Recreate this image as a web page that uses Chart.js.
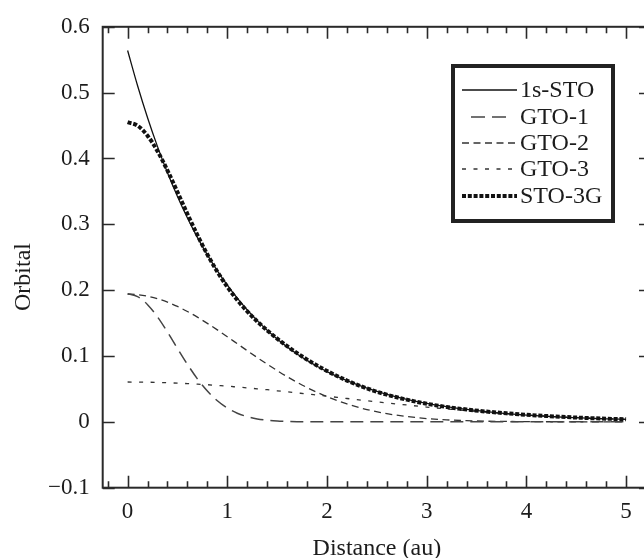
<!DOCTYPE html>
<html>

<head>
  <title>STO-3G orbital</title>
  <script src="https://cdn.jsdelivr.net/npm/chart.js"></script>
  <style>
    body { margin: 0; overflow: hidden; background: #fff; }
    #wrap { width: 656px; height: 558px; }
  </style>
</head>

<body>
  <div id="wrap"><canvas id="orbitalChart"></canvas></div>
  <script>
    // distance in au (finer step near the nucleus)
    var distance = [0, 0.1, 0.2, 0.3, 0.4, 0.5, 0.6, 0.7, 0.8, 0.9, 1.0, 1.1, 1.2, 1.3, 1.4, 1.5, 1.6, 1.7, 1.8, 1.9, 2.0,
      2.2, 2.4, 2.6, 2.8, 3.0, 3.2, 3.4, 3.6, 3.8, 4.0, 4.2, 4.4, 4.6, 4.8, 5.0];

    var sto1s = [0.564, 0.5105, 0.4619, 0.418, 0.3782, 0.3422, 0.3096, 0.2802, 0.2535, 0.2294, 0.2076, 0.1878, 0.1699, 0.1538, 0.1391, 0.1259, 0.1139, 0.1031, 0.0933, 0.0844, 0.0764,
      0.0625, 0.0512, 0.0419, 0.0343, 0.0281, 0.023, 0.0188, 0.0154, 0.0126, 0.0103, 0.0085, 0.0069, 0.0057, 0.0046, 0.0038];
    var gto1 = [0.1946, 0.1903, 0.178, 0.1593, 0.1363, 0.1115, 0.0873, 0.0653, 0.0468, 0.032, 0.021, 0.0131, 0.0079, 0.0045, 0.0024, 0.0013, 0.0007, 0.0003, 0.0001, 0, 0,
      0, 0, 0, 0, 0, 0, 0, 0, 0, 0, 0, 0, 0, 0, 0];
    var gto2 = [0.194, 0.1932, 0.1909, 0.187, 0.1818, 0.1753, 0.1676, 0.159, 0.1496, 0.1397, 0.1293, 0.1187, 0.1081, 0.0977, 0.0876, 0.0779, 0.0687, 0.0601, 0.0521, 0.0448, 0.0383,
      0.0272, 0.0187, 0.0125, 0.0081, 0.005, 0.003, 0.0018, 0.001, 0.0006, 0.0003, 0.0002, 0.0001, 0, 0, 0];
    var gto3 = [0.0605, 0.0604, 0.0602, 0.0599, 0.0594, 0.0588, 0.0581, 0.0573, 0.0564, 0.0553, 0.0542, 0.0529, 0.0516, 0.0502, 0.0488, 0.0472, 0.0456, 0.044, 0.0424, 0.0407, 0.039,
      0.0355, 0.0321, 0.0288, 0.0256, 0.0225, 0.0196, 0.017, 0.0146, 0.0124, 0.0104, 0.0087, 0.0072, 0.0059, 0.0048, 0.0039];
    var sto3g = [0.4551, 0.4498, 0.4346, 0.4111, 0.3817, 0.349, 0.3157, 0.2836, 0.2542, 0.228, 0.2051, 0.1851, 0.1678, 0.1525, 0.1389, 0.1264, 0.115, 0.1044, 0.0946, 0.0855, 0.0773,
      0.0627, 0.0508, 0.0413, 0.0337, 0.0275, 0.0226, 0.0188, 0.0156, 0.013, 0.0107, 0.0089, 0.0073, 0.0059, 0.0048, 0.0039];

    var seriesNames = ['1s-STO', 'GTO-1', 'GTO-2', 'GTO-3', 'STO-3G'];
    var yTitle = 'Orbital';

    var serif = 'Liberation Serif, Times New Roman, serif';
    var ink = '#1c1c1c';

    function points(vals) {
      return distance.map(function (d, i) { return { x: d, y: vals[i] }; });
    }

    // box frame with inward ticks on all four sides, plus the y title
    var framePlugin = {
      id: 'frame',
      afterDatasetsDraw: function (chart) {
        var ctx = chart.ctx, a = chart.chartArea;
        var xs = chart.scales.x, ys = chart.scales.y;
        ctx.save();
        ctx.strokeStyle = '#2a2a2a';
        ctx.lineWidth = 2;
        ctx.strokeRect(a.left, a.top, a.right - a.left, a.bottom - a.top);
        ctx.lineWidth = 1.6;
        ctx.beginPath();
        for (var i = -2; i <= 27; i++) {
          var v = i * 0.2;
          if (v < xs.min || v > xs.max) continue;
          var px = Math.round(xs.getPixelForValue(v)) + 0.5;
          var len = (i % 5 === 0) ? 12 : 6.5;
          ctx.moveTo(px, a.bottom); ctx.lineTo(px, a.bottom - len);
          ctx.moveTo(px, a.top); ctx.lineTo(px, a.top + len);
        }
        ys.ticks.forEach(function (t) {
          var py = Math.round(ys.getPixelForValue(t.value)) + 0.5;
          ctx.moveTo(a.left, py); ctx.lineTo(a.left + 12, py);
          ctx.moveTo(a.right, py); ctx.lineTo(a.right - 12, py);
        });
        ctx.stroke();

        // y title sits a little below the middle of the axis in the original
        ctx.translate(24, 277);
        ctx.rotate(-Math.PI / 2);
        ctx.font = '24px ' + serif;
        ctx.fillStyle = ink;
        ctx.textAlign = 'center';
        ctx.textBaseline = 'middle';
        ctx.fillText(yTitle, 0, 0);
        ctx.restore();
      }
    };

    // boxed legend in the upper right
    var legendPlugin = {
      id: 'boxLegend',
      afterDraw: function (chart) {
        var ctx = chart.ctx;
        var bx = 453, by = 66, bw = 160, bh = 155;
        ctx.save();
        ctx.fillStyle = '#fff';
        ctx.fillRect(bx, by, bw, bh);
        ctx.strokeStyle = '#222';
        ctx.lineWidth = 4;
        ctx.strokeRect(bx, by, bw, bh);
        var rows = [90, 117, 143, 169, 196];
        ctx.font = '24px ' + serif;
        ctx.textBaseline = 'middle';
        ctx.fillStyle = ink;
        chart.data.datasets.forEach(function (ds, i) {
          ctx.save();
          ctx.strokeStyle = ds.borderColor;
          ctx.lineWidth = ds.borderWidth;
          ctx.setLineDash(ds.legendDash || ds.borderDash || []);
          ctx.beginPath();
          ctx.moveTo(462, rows[i]);
          ctx.lineTo(517, rows[i]);
          ctx.stroke();
          ctx.restore();
          ctx.fillText(ds.label, 520, rows[i] + 1);
        });
        ctx.restore();
      }
    };

    var ctx = document.getElementById('orbitalChart').getContext('2d');
    var chart = new Chart(ctx, {
      type: 'line',
      data: {
        datasets: [{
          label: seriesNames[0],
          data: points(sto1s),
          borderColor: '#111',
          borderWidth: 1.3,
          order: 1
        }, {
          label: seriesNames[1],
          data: points(gto1),
          borderColor: '#444',
          borderWidth: 1.5,
          borderDash: [13, 7],
          legendDash: [0, 9, 14, 7, 14, 20],
          order: 2
        }, {
          label: seriesNames[2],
          data: points(gto2),
          borderColor: '#333',
          borderWidth: 1.3,
          borderDash: [7, 4.5],
          order: 3
        }, {
          label: seriesNames[3],
          data: points(gto3),
          borderColor: '#333',
          borderWidth: 1.3,
          borderDash: [4, 7.5],
          order: 4
        }, {
          label: seriesNames[4],
          data: points(sto3g),
          borderColor: '#111',
          borderWidth: 4,
          borderDash: [4, 1.8],
          order: 0
        }]
      },
      options: {
        responsive: true,
        maintainAspectRatio: false,
        animation: false,
        devicePixelRatio: 1,
        layout: { padding: { top: 22, right: 5, left: 0, bottom: 0 } },
        elements: {
          point: { radius: 0 },
          line: { cubicInterpolationMode: 'monotone', fill: false }
        },
        plugins: {
          legend: { display: false },
          tooltip: { enabled: false }
        },
        scales: {
          x: {
            type: 'linear',
            min: -0.25,
            max: 5.25,
            grid: { display: false, drawTicks: false },
            border: { display: false },
            ticks: {
              stepSize: 1,
              includeBounds: false,
              maxRotation: 0,
              padding: 10,
              color: ink,
              font: { family: serif, size: 23 }
            },
            title: {
              display: true,
              text: 'Distance (au)',
              color: ink,
              padding: { top: 0, bottom: -3 },
              font: { family: serif, size: 24, lineHeight: 1 }
            },
            afterFit: function (scale) { scale.height = 70.3; }
          },
          y: {
            min: -0.1,
            max: 0.6,
            grid: { display: false, drawTicks: false },
            border: { display: false },
            ticks: {
              stepSize: 0.1,
              padding: 13,
              color: ink,
              font: { family: serif, size: 23 },
              callback: function (value) {
                var v = Math.round(value * 10) / 10;
                if (v === 0) return '0';
                return v < 0 ? '\u2212' + Math.abs(v).toFixed(1) : v.toFixed(1);
              }
            },
            afterFit: function (scale) { scale.width = 102.7; }
          }
        }
      },
      plugins: [framePlugin, legendPlugin]
    });
  </script>
</body>

</html>
